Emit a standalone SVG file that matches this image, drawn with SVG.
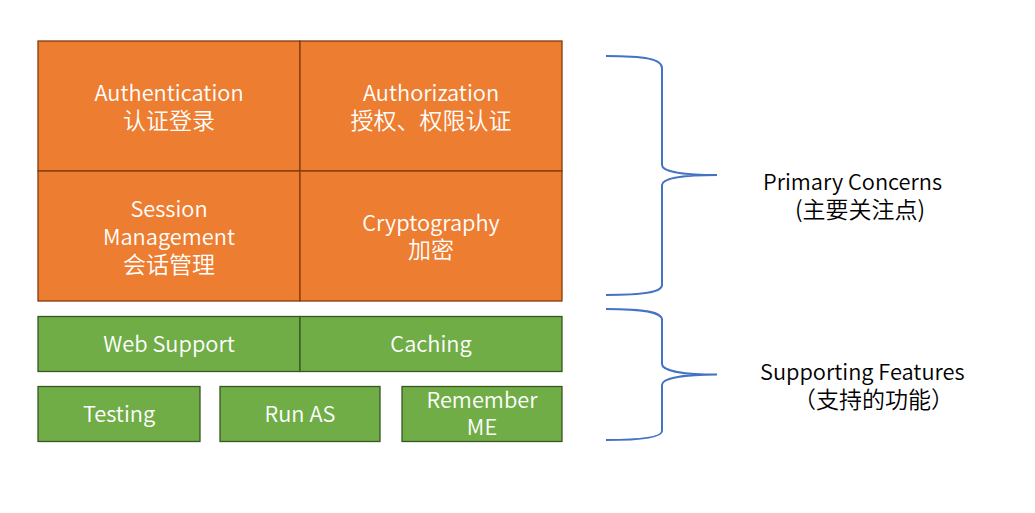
<svg xmlns="http://www.w3.org/2000/svg" width="1035" height="513" viewBox="0 0 1035 513">
<style>
.o{fill:#ED7D31;stroke:#843C0C;stroke-width:1.3}
.g{fill:#70AD47;stroke:#385723;stroke-width:1.3}
.t{font-family:"Noto Sans CJK SC","Noto Sans",sans-serif;font-size:21.8px;font-weight:350;fill:#ffffff;text-anchor:middle}
.t.c{font-size:23px}
.k{font-family:"Noto Sans CJK SC","Noto Sans",sans-serif;font-size:21.8px;font-weight:350;fill:#000000}
.k.c{font-size:23px}
.b{fill:none;stroke:#4472C4;stroke-width:2}
</style>
<rect width="1035" height="513" fill="#ffffff"/>
<g id="authentication"><rect class="o" x="38" y="41" width="262" height="130"/><text class="t" x="169" y="101">Authentication</text><text class="t c" x="169" y="128.5">认证登录</text></g>
<g id="authorization"><rect class="o" x="300" y="41" width="262" height="130"/><text class="t" x="431" y="101">Authorization</text><text class="t c" x="431" y="128.5">授权、权限认证</text></g>
<g id="session"><rect class="o" x="38" y="171" width="262" height="130"/><text class="t" x="169" y="217">Session</text><text class="t" x="169" y="245">Management</text><text class="t c" x="169" y="273">会话管理</text></g>
<g id="cryptography"><rect class="o" x="300" y="171" width="262" height="130"/><text class="t" x="431" y="231">Cryptography</text><text class="t c" x="431" y="257.5">加密</text></g>
<g id="websupport"><rect class="g" x="38" y="316.5" width="262" height="55"/><text class="t" x="169" y="352">Web Support</text></g>
<g id="caching"><rect class="g" x="300" y="316.5" width="262" height="55"/><text class="t" x="431" y="352">Caching</text></g>
<g id="testing"><rect class="g" x="38" y="386.5" width="162" height="55"/><text class="t" x="119" y="421.5">Testing</text></g>
<g id="runas"><rect class="g" x="220" y="386.5" width="160" height="55"/><text class="t" x="300" y="421.5">Run AS</text></g>
<g id="rememberme"><rect class="g" x="402" y="386.5" width="160" height="55"/><text class="t" x="482" y="408">Remember</text><text class="t" x="482" y="435">ME</text></g>
<g id="connectors">
<path class="b" d="M606,56 C645,56 662,59 662,68 L662,165 C662,172 685,175 717,175 C685,175 662,178 662,185 L662,285 C662,292 645,295 606,295"/>
<path class="b" d="M606,309 C645,309 662,312 662,320 L662,364 C662,371 685,374.5 717,374.5 C685,374.5 662,378 662,385 L662,431 C662,437 645,440 606,440"/>
</g>
<g id="primary"><text class="k" x="763" y="189.5">Primary Concerns</text><text class="k c" x="795" y="218">(主要关注点)</text></g>
<g id="supporting"><text class="k" x="760" y="379.5">Supporting Features</text><text class="k c" x="793" y="408">（支持的功能）</text></g>
</svg>
